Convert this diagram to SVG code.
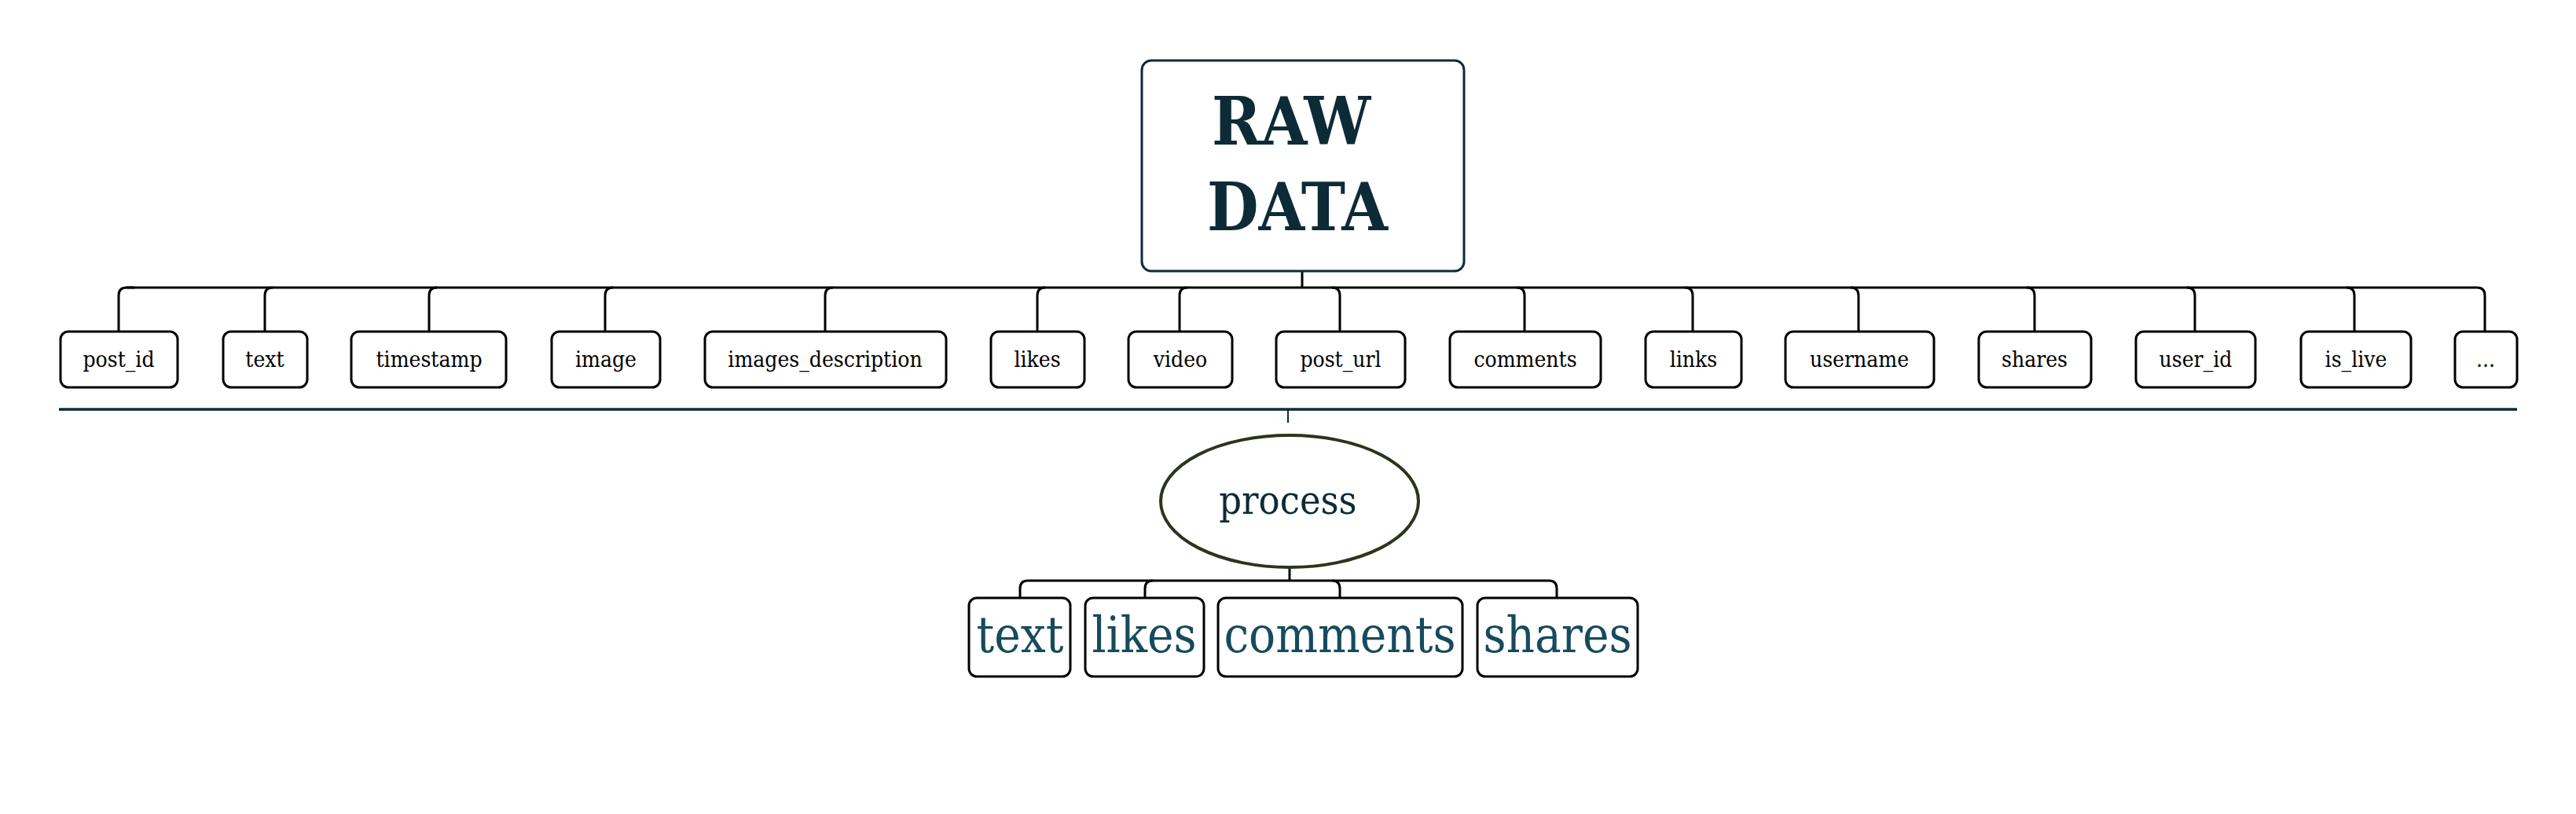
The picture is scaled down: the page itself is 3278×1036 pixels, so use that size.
<svg xmlns="http://www.w3.org/2000/svg" width="3278" height="1036" viewBox="0 0 3278 1036">
<style>
.bx{fill:#fff;stroke:#000;stroke-width:3}
.lb{font-family:"DejaVu Serif Condensed","DejaVu Serif","Liberation Serif",serif;font-stretch:condensed;font-size:28px;fill:#000;text-anchor:middle}
.big{font-family:"DejaVu Serif Condensed","DejaVu Serif","Liberation Serif",serif;font-stretch:condensed;font-size:63px;fill:#174a5c;text-anchor:middle}
.cn{fill:none;stroke:#000;stroke-width:3}
</style>
<rect width="3278" height="1036" fill="#fff"/>
<g id="connectors">
<path class="cn" d="M1657 345V366"/>
<path class="cn" d="M161 366H3152"/>
<path class="cn" d="M171 366H161Q151 366 151 376V422"/>
<path class="cn" d="M347 366Q337 366 337 376V422"/>
<path class="cn" d="M556 366Q546 366 546 376V422"/>
<path class="cn" d="M780 366Q770 366 770 376V422"/>
<path class="cn" d="M1060 366Q1050 366 1050 376V422"/>
<path class="cn" d="M1330 366Q1320 366 1320 376V422"/>
<path class="cn" d="M1511 366Q1501 366 1501 376V422"/>
<path class="cn" d="M1695 366Q1705 366 1705 376V422"/>
<path class="cn" d="M1930 366Q1940 366 1940 376V422"/>
<path class="cn" d="M2144 366Q2154 366 2154 376V422"/>
<path class="cn" d="M2355 366Q2365 366 2365 376V422"/>
<path class="cn" d="M2579 366Q2589 366 2589 376V422"/>
<path class="cn" d="M2783 366Q2793 366 2793 376V422"/>
<path class="cn" d="M2986 366Q2996 366 2996 376V422"/>
<path class="cn" d="M3152 366Q3162 366 3162 376V422"/>
<line x1="75" y1="521" x2="3203" y2="521" stroke="#0d2b36" stroke-width="3.5"/>
<line x1="1639" y1="521" x2="1639" y2="538" stroke="#0d2b36" stroke-width="2"/>
<path class="cn" d="M1641 723V739"/>
<path class="cn" d="M1308 739H1971"/>
<path class="cn" d="M1308 739Q1298 739 1298 749V761"/>
<path class="cn" d="M1467 739Q1457 739 1457 749V761"/>
<path class="cn" d="M1695 739Q1705 739 1705 749V761"/>
<path class="cn" d="M1971 739Q1981 739 1981 749V761"/>
</g>
<g id="raw-data">
<rect x="1453" y="77" width="410" height="268" rx="12" fill="#fff" stroke="#0d2b36" stroke-width="3"/>
<text x="1643" y="184" font-family="'DejaVu Serif Condensed','DejaVu Serif','Liberation Serif',serif" font-stretch="condensed" font-weight="bold" font-size="84" fill="#0d2b36" text-anchor="middle">RAW</text>
<text x="1651" y="293" font-family="'DejaVu Serif Condensed','DejaVu Serif','Liberation Serif',serif" font-stretch="condensed" font-weight="bold" font-size="84" fill="#0d2b36" text-anchor="middle">DATA</text>
</g>
<g id="n-post_id"><rect class="bx" x="77" y="422" width="149" height="71" rx="10"/><text class="lb" x="151" y="467">post_id</text></g>
<g id="n-text"><rect class="bx" x="284" y="422" width="107" height="71" rx="10"/><text class="lb" x="337" y="467">text</text></g>
<g id="n-timestamp"><rect class="bx" x="447" y="422" width="197" height="71" rx="10"/><text class="lb" x="546" y="467">timestamp</text></g>
<g id="n-image"><rect class="bx" x="702" y="422" width="138" height="71" rx="10"/><text class="lb" x="771" y="467">image</text></g>
<g id="n-images_description"><rect class="bx" x="897" y="422" width="307" height="71" rx="10"/><text class="lb" x="1050" y="467">images_description</text></g>
<g id="n-likes"><rect class="bx" x="1261" y="422" width="119" height="71" rx="10"/><text class="lb" x="1320" y="467">likes</text></g>
<g id="n-video"><rect class="bx" x="1436" y="422" width="132" height="71" rx="10"/><text class="lb" x="1502" y="467">video</text></g>
<g id="n-post_url"><rect class="bx" x="1624" y="422" width="164" height="71" rx="10"/><text class="lb" x="1706" y="467">post_url</text></g>
<g id="n-comments"><rect class="bx" x="1845" y="422" width="192" height="71" rx="10"/><text class="lb" x="1941" y="467">comments</text></g>
<g id="n-links"><rect class="bx" x="2094" y="422" width="122" height="71" rx="10"/><text class="lb" x="2155" y="467">links</text></g>
<g id="n-username"><rect class="bx" x="2272" y="422" width="189" height="71" rx="10"/><text class="lb" x="2366" y="467">username</text></g>
<g id="n-shares"><rect class="bx" x="2518" y="422" width="143" height="71" rx="10"/><text class="lb" x="2589" y="467">shares</text></g>
<g id="n-user_id"><rect class="bx" x="2718" y="422" width="152" height="71" rx="10"/><text class="lb" x="2794" y="467">user_id</text></g>
<g id="n-is_live"><rect class="bx" x="2928" y="422" width="140" height="71" rx="10"/><text class="lb" x="2998" y="467">is_live</text></g>
<g id="n-more"><rect class="bx" x="3124" y="422" width="79" height="71" rx="10"/><text class="lb" x="3163" y="467">...</text></g>
<g id="process">
<ellipse cx="1641" cy="638" rx="164" ry="84" fill="#fff" stroke="#2b3519" stroke-width="4"/>
<text x="1639" y="654" font-family="'DejaVu Serif Condensed','DejaVu Serif','Liberation Serif',serif" font-stretch="condensed" font-size="50" fill="#0d2b36" text-anchor="middle">process</text>
</g>
<g id="o-text"><rect class="bx" x="1233" y="761" width="129" height="100" rx="10"/><text class="big" x="1298" y="830">text</text></g>
<g id="o-likes"><rect class="bx" x="1381" y="761" width="151" height="100" rx="10"/><text class="big" x="1456" y="830">likes</text></g>
<g id="o-comments"><rect class="bx" x="1550" y="761" width="311" height="100" rx="10"/><text class="big" x="1705" y="830">comments</text></g>
<g id="o-shares"><rect class="bx" x="1880" y="761" width="204" height="100" rx="10"/><text class="big" x="1982" y="830">shares</text></g>
</svg>
